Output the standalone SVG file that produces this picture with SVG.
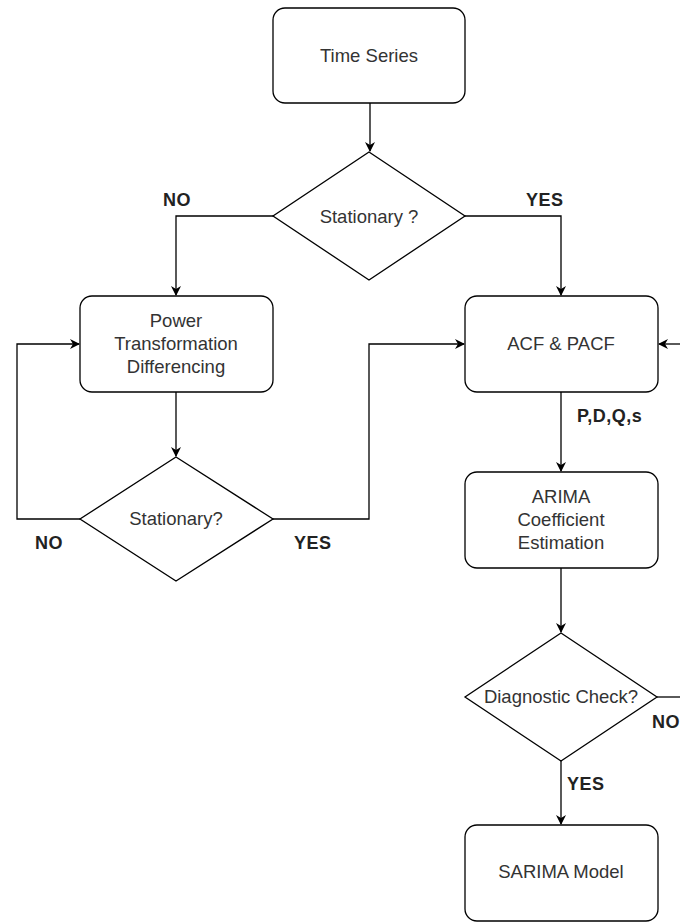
<svg xmlns="http://www.w3.org/2000/svg" width="680" height="922" viewBox="0 0 680 922">
<style>
.box{fill:#fff;stroke:#000;stroke-width:1.3}
.t{font-family:"Liberation Sans",Arial,sans-serif;font-size:18.5px;fill:#333;text-anchor:middle}
.lbl{font-family:"Liberation Sans",Arial,sans-serif;font-size:18px;font-weight:bold;fill:#222;letter-spacing:0.5px}
.c{fill:none;stroke:#000;stroke-width:1.3}
</style>
<defs>
<marker id="a" viewBox="0 0 10 10" refX="9" refY="5" markerWidth="10" markerHeight="10" markerUnits="userSpaceOnUse" orient="auto">
<path d="M0,0 L10,5 L0,10 L3,5 Z" fill="#000"/>
</marker>
</defs>
<rect width="680" height="922" fill="#fff"/>
<g id="connectors">
<path class="c" d="M370,103 V151" marker-end="url(#a)"/>
<path class="c" d="M273,216 H176 V295" marker-end="url(#a)"/>
<path class="c" d="M465,216 H561 V295" marker-end="url(#a)"/>
<path class="c" d="M176,392 V456" marker-end="url(#a)"/>
<path class="c" d="M80,519 H17 V344 H79" marker-end="url(#a)"/>
<path class="c" d="M273,519 H369 V344 H464" marker-end="url(#a)"/>
<path class="c" d="M680,344 H659" marker-end="url(#a)"/>
<path class="c" d="M561,392 V471" marker-end="url(#a)"/>
<path class="c" d="M561,568 V632" marker-end="url(#a)"/>
<path class="c" d="M657,697 H680"/>
<path class="c" d="M561,761 V824" marker-end="url(#a)"/>
<text class="lbl" x="163" y="206">NO</text>
<text class="lbl" x="526" y="206">YES</text>
<text class="lbl" x="35" y="549">NO</text>
<text class="lbl" x="294" y="549">YES</text>
<text class="lbl" x="577" y="422">P,D,Q,s</text>
<text class="lbl" x="652" y="728">NO</text>
<text class="lbl" x="567" y="790">YES</text>
</g>
<g id="time-series">
<rect class="box" x="273" y="8" width="192" height="95" rx="12"/>
<text class="t" x="369" y="62">Time Series</text>
</g>
<g id="stationary1">
<polygon class="box" points="369,152 465,216 369,280 273,216"/>
<text class="t" x="369" y="223">Stationary ?</text>
</g>
<g id="power">
<rect class="box" x="80" y="296" width="193" height="96" rx="12"/>
<text class="t" x="176" y="327">Power</text>
<text class="t" x="176" y="350">Transformation</text>
<text class="t" x="176" y="373">Differencing</text>
</g>
<g id="stationary2">
<polygon class="box" points="176,457 273,519 176,581 80,519"/>
<text class="t" x="176" y="525">Stationary?</text>
</g>
<g id="acf">
<rect class="box" x="465" y="296" width="193" height="96" rx="12"/>
<text class="t" x="561" y="350">ACF &amp; PACF</text>
</g>
<g id="arima">
<rect class="box" x="465" y="472" width="193" height="96" rx="12"/>
<text class="t" x="561" y="503">ARIMA</text>
<text class="t" x="561" y="526">Coefficient</text>
<text class="t" x="561" y="549">Estimation</text>
</g>
<g id="diagnostic">
<polygon class="box" points="561,633 657,697 561,761 465,697"/>
<text class="t" x="561" y="703">Diagnostic Check?</text>
</g>
<g id="sarima">
<rect class="box" x="465" y="825" width="193" height="96" rx="12"/>
<text class="t" x="561" y="878">SARIMA Model</text>
</g>
</svg>
